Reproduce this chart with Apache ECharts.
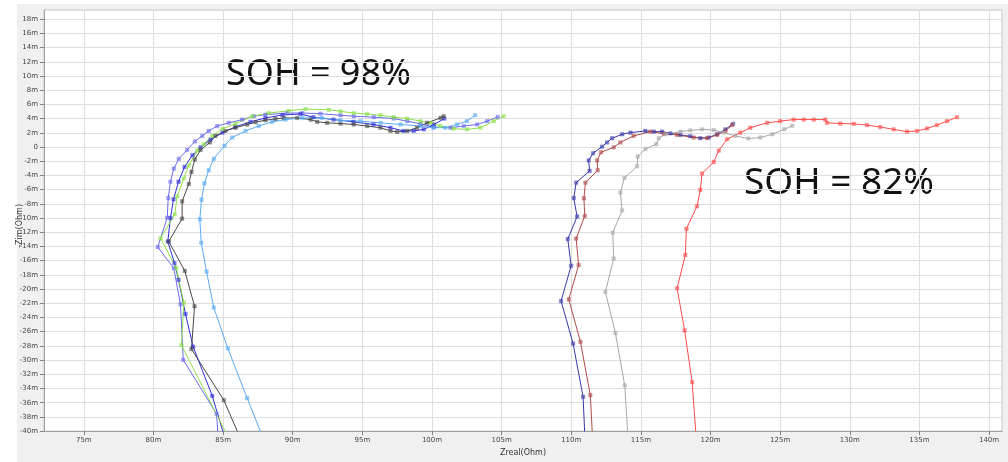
<!DOCTYPE html>
<html>
<head>
<meta charset="utf-8">
<script src="https://cdn.jsdelivr.net/npm/echarts@6/dist/echarts.min.js"></script>
<style>
  html, body { margin: 0; padding: 0; background: #ffffff; }
  #bg { position: absolute; left: 17px; top: 4px; right: 0; bottom: 0; background: #f0f0f0; }
  #chart { position: absolute; left: 0; top: 0; width: 1008px; height: 462px; }
</style>
</head>
<body>
<div id="bg"></div>
<div id="chart"></div>
<script>
// ---- Data (Zreal in mOhm, -Zim in mOhm) ----
const xTickStep = 5;   // mOhm
const yTickStep = 2;   // mOhm
const annotations = ['SOH = 98%', 'SOH = 82%'];

// SOH 98% group
const violet98 = [[84.67,-41.75],[84.53,-37.57],[82.14,-29.97],[81.94,-22.14],[81.46,-17.07],[80.31,-14.09],[80.99,-9.94],[81.06,-7.18],[81.22,-4.88],[81.46,-3.04],[81.82,-1.66],[82.42,-0.41],[82.97,0.79],[83.50,1.57],[83.97,2.27],[84.58,2.96],[85.41,3.41],[86.37,3.87],[87.20,4.34],[88.04,4.56],[89.60,4.79],[90.68,4.79],[91.99,4.70],[93.43,4.48],[94.38,4.34],[95.82,4.20],[97.25,4.01],[98.22,3.65],[99.18,3.27],[100.13,2.82],[101.33,2.72],[102.28,2.96],[103.24,3.18],[103.96,3.65],[104.72,4.24]];
const darkBlue98 = [[85.24,-41.75],[84.22,-35.03],[82.85,-28.12],[82.30,-23.52],[81.80,-18.69],[81.51,-16.34],[81.03,-13.30],[81.22,-9.99],[81.44,-7.36],[81.80,-4.88],[82.23,-2.80],[82.80,-1.15],[83.38,-0.04],[84.10,1.06],[84.96,2.03],[85.89,2.86],[86.97,3.55],[88.04,4.10],[89.26,4.52],[90.56,4.65],[91.49,4.20],[92.93,3.87],[94.36,3.55],[95.80,3.18],[97.02,2.72],[97.95,2.27],[98.69,2.27],[99.41,2.49],[100.13,3.18],[100.89,4.01]];
const green98 = [[85.60,-41.75],[82.01,-27.90],[82.18,-21.91],[81.63,-16.99],[80.51,-12.85],[81.53,-9.48],[81.70,-6.95],[82.18,-4.42],[82.54,-2.57],[83.14,-0.50],[83.61,0.41],[84.22,1.57],[84.96,2.58],[85.89,3.27],[87.09,4.34],[88.28,4.79],[89.72,5.11],[90.92,5.35],[92.59,5.25],[93.43,5.03],[94.38,4.79],[95.34,4.65],[96.30,4.48],[97.25,4.20],[98.22,4.01],[99.18,3.65],[99.89,3.41],[100.61,2.96],[101.56,2.58],[102.52,2.49],[103.48,2.72],[104.43,3.65],[105.15,4.34]];
const black98 = [[86.25,-41.06],[85.05,-35.64],[82.73,-28.45],[82.95,-22.42],[82.25,-17.44],[81.10,-13.30],[82.06,-10.08],[82.06,-7.64],[82.54,-5.19],[82.73,-3.49],[82.97,-1.74],[83.38,-0.41],[84.05,0.65],[84.45,1.57],[85.17,2.27],[85.89,2.72],[86.73,3.18],[87.33,3.51],[88.04,3.78],[88.76,3.96],[89.36,4.10],[90.32,4.10],[91.28,3.87],[91.76,3.55],[92.47,3.41],[93.43,3.31],[94.38,3.18],[95.34,2.96],[96.30,2.72],[97.02,2.27],[97.50,2.13],[98.22,2.27],[98.93,2.72],[99.65,3.41],[100.61,4.10],[100.84,4.34]];
const lightBlue98 = [[88.04,-41.80],[86.73,-35.36],[85.34,-28.36],[84.33,-22.60],[83.81,-17.54],[83.43,-13.48],[83.33,-10.17],[83.45,-7.40],[83.66,-5.11],[83.97,-3.26],[84.33,-1.66],[85.10,0.19],[85.65,1.34],[86.61,2.27],[87.56,2.96],[88.52,3.55],[89.48,3.87],[90.68,4.10],[92.11,4.10],[93.43,3.76],[94.87,3.65],[96.31,3.41],[97.74,3.18],[99.18,2.96],[100.10,2.72],[100.96,2.72],[101.80,3.18],[102.50,3.65],[103.10,4.48]];

// SOH 82% group
const navy82 = [[111.00,-41.75],[110.85,-35.17],[110.13,-27.67],[109.27,-21.69],[109.99,-16.71],[109.75,-12.96],[110.42,-9.78],[110.18,-7.18],[110.35,-5.01],[111.32,-3.36],[111.25,-1.88],[111.57,-0.87],[112.21,0.06],[112.57,0.65],[112.93,1.24],[113.65,1.80],[114.25,2.03],[115.32,2.27],[115.92,2.17],[116.52,2.17],[117.12,1.93],[117.84,1.71],[118.55,1.52],[119.27,1.24],[119.87,1.34],[120.47,1.80],[121.07,2.49],[121.62,3.27]];
const brown82 = [[111.55,-41.75],[111.37,-34.94],[110.66,-27.43],[109.82,-21.45],[110.53,-16.62],[110.35,-12.89],[110.97,-9.71],[110.91,-7.22],[111.02,-5.01],[111.90,-3.26],[111.86,-1.88],[112.14,-0.73],[113.05,-0.04],[113.53,0.65],[114.48,1.57],[115.68,2.17],[116.64,1.89],[117.60,1.71],[118.79,1.34],[119.75,1.24],[120.47,1.71],[121.07,2.27],[121.55,3.09]];
const gray82 = [[114.10,-41.75],[113.84,-33.56],[113.17,-26.19],[112.45,-20.41],[113.05,-15.69],[112.98,-12.06],[113.65,-8.92],[113.53,-6.40],[113.82,-4.32],[114.73,-2.71],[114.77,-1.33],[115.32,-0.28],[116.11,0.41],[116.28,1.24],[116.76,1.80],[117.84,2.17],[118.55,2.35],[119.39,2.49],[120.23,2.40],[120.94,2.03],[121.78,1.57],[122.72,1.20],[123.58,1.34],[124.44,1.80],[125.30,2.51],[125.88,3.00]];
const red82 = [[119.00,-41.75],[118.68,-33.09],[118.14,-25.83],[117.60,-19.89],[118.19,-15.19],[118.27,-11.51],[119.03,-8.33],[119.27,-6.02],[119.39,-3.73],[120.23,-2.11],[120.59,-0.50],[121.19,1.10],[122.14,2.03],[122.86,2.72],[124.06,3.41],[125.01,3.65],[125.97,3.87],[126.69,3.87],[127.41,3.87],[128.24,3.87],[128.37,3.41],[129.32,3.31],[130.28,3.27],[131.24,3.09],[132.19,2.82],[133.15,2.49],[134.11,2.17],[134.83,2.27],[135.55,2.62],[136.26,3.09],[136.98,3.65],[137.70,4.20]];

const seriesDefs = [
  { name: 'violet98', data: violet98, color: '#6a6aec' },
  { name: 'darkBlue98', data: darkBlue98, color: '#2e2ed6' },
  { name: 'green98', data: green98, color: '#8ee04a' },
  { name: 'black98', data: black98, color: '#484848' },
  { name: 'lightBlue98', data: lightBlue98, color: '#58aaf4' },
  { name: 'navy82', data: navy82, color: '#3838a8' },
  { name: 'brown82', data: brown82, color: '#b04a4a' },
  { name: 'gray82', data: gray82, color: '#a8a8a8' },
  { name: 'red82', data: red82, color: '#ff4c4c' }
];

const chart = echarts.init(document.getElementById('chart'), null, { renderer: 'canvas' });

const isMult = (v, s) => Math.abs(v / s - Math.round(v / s)) < 1e-6;

chart.setOption({
  animation: false,
  backgroundColor: 'transparent',
  grid: {
    left: 44, top: 10, right: 6, bottom: 22,
    show: true, backgroundColor: '#ffffff', borderColor: '#c8c8c8', borderWidth: 1
  },
  xAxis: {
    type: 'value',
    min: 72.14, max: 140.93,
    splitNumber: 14, minInterval: xTickStep, maxInterval: xTickStep,
    name: 'Zreal(Ohm)', nameLocation: 'middle', nameGap: 12,
    nameTextStyle: { fontSize: 8, color: '#333', fontFamily: 'DejaVu Sans', padding: [0, 0, 0, 0] },
    axisLine: { show: true, onZero: false, lineStyle: { color: '#a0a0a0' } },
    axisTick: { show: true, length: 4, lineStyle: { color: '#808080' } },
    axisLabel: {
      fontSize: 7, color: '#444', fontFamily: 'DejaVu Sans', margin: 6,
      showMinLabel: false, showMaxLabel: false,
      formatter: v => isMult(v, xTickStep) ? (Math.round(v) + 'm') : ''
    },
    splitLine: { show: true, lineStyle: { color: '#dedede', width: 1 } }
  },
  yAxis: {
    type: 'value',
    min: -40, max: 19.3,
    splitNumber: 30, minInterval: yTickStep, maxInterval: yTickStep,
    axisLine: { show: true, onZero: false, lineStyle: { color: '#a0a0a0' } },
    axisTick: { show: true, length: 4, lineStyle: { color: '#808080' } },
    axisLabel: {
      fontSize: 7, color: '#444', fontFamily: 'DejaVu Sans', margin: 6,
      showMaxLabel: false,
      formatter: v => {
        if (!isMult(v, yTickStep)) return '';
        const r = Math.round(v);
        return r === 0 ? '0' : (r + 'm');
      }
    },
    splitLine: { show: true, lineStyle: { color: '#dedede', width: 1 } }
  },
  graphic: [
    { type: 'text', left: 16, top: 204, rotation: Math.PI / 2,
      style: { text: '-Zim(Ohm)', font: '8px DejaVu Sans', fill: '#333' } },
    { type: 'text', left: 226, top: 57,
      style: { text: annotations[0], font: '36px "Noto Sans"', fill: '#111' } },
    { type: 'text', left: 744, top: 165,
      style: { text: annotations[1], font: '37px "Noto Sans"', fill: '#111' } }
  ],
  series: seriesDefs.map(s => ({
    name: s.name,
    type: 'line',
    data: s.data,
    clip: true,
    symbol: 'rect',
    symbolSize: 3.5,
    showAllSymbol: true,
    lineStyle: { color: s.color, width: 1 },
    itemStyle: { color: s.color, opacity: 0.6, borderColor: s.color, borderWidth: 0.5 }
  }))
});
</script>
</body>
</html>
